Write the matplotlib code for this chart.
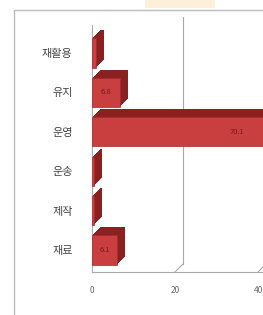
import matplotlib
matplotlib.use("Agg")
import matplotlib.pyplot as plt
import matplotlib.transforms as mtransforms
from matplotlib.patches import Rectangle

plt.rcParams['font.family'] = ['Noto Sans CJK KR', 'DejaVu Sans']

categories = ['재료', '제작', '운송', '운영', '유지', '재활용']
values = [6.1, 0.4, 0.6, 70.1, 6.8, 1.0]
xticks = [0, 20, 40, 60, 80]

fig = plt.figure(figsize=(2.63, 3.15), dpi=100)
# plot area runs past the right edge, as in the cropped reference
ax = fig.add_axes([92 / 263, 43 / 315, 415 / 263, 247 / 315])

pos = list(range(len(categories)))
D = 8  # 3d depth in pixels

def shift(px):
    return mtransforms.ScaledTranslation(px / 100, px / 100, fig.dpi_scale_trans)

# back wall gridlines (shifted by the depth) with a short floor segment
for t in xticks[1:]:
    ax.plot([t, t], [0, 1], color='#a8a8a8', lw=0.8, zorder=0,
            transform=ax.get_xaxis_transform() + shift(D), clip_on=False)
    ax.annotate('', xy=(t, 0), xycoords=ax.get_xaxis_transform(),
                xytext=(D * 0.72, D * 0.72), textcoords='offset points',
                arrowprops=dict(arrowstyle='-', color='#a8a8a8', lw=0.8,
                                shrinkA=0, shrinkB=0))

# extrude the bars back to give the 3d look, then the front face
for k in range(D, 0, -1):
    ax.barh(pos, values, height=0.74, color='#8a2020', lw=0, zorder=2,
            transform=ax.transData + shift(k))
ax.barh(pos, values, height=0.74, color='#c93f3f', edgecolor='#a22b2b',
        lw=0.5, zorder=3)

for p, v in zip(pos, values):
    if v > 3:
        ax.text(v / 2, p, f'{v:.1f}', ha='center', va='center',
                fontsize=5.5, color='#761a1a', zorder=4)

ax.set_xlim(0, 100)
ax.set_ylim(-0.56, 5.71)
ax.set_xticks(xticks)
ax.set_yticks(pos)
ax.set_yticklabels(categories)
ax.tick_params(axis='y', length=0, labelsize=8, labelcolor='#444444', pad=14)
ax.tick_params(axis='x', length=0, labelsize=6, labelcolor='#666666', pad=10)
for side in ['top', 'right']:
    ax.spines[side].set_visible(False)
for side in ['left', 'bottom']:
    ax.spines[side].set_color('#a8a8a8')
    ax.spines[side].set_linewidth(0.8)

# outer chart border and the edge of the cut-off title box
fig.add_artist(Rectangle((14 / 263, -0.1), 1.2, 0.1 + (1 - 10 / 315),
                         transform=fig.transFigure, fill=False,
                         edgecolor='#bcbcbc', lw=1))
fig.add_artist(Rectangle((145 / 263, 1 - 8 / 315), 70 / 263, 8 / 315,
                         transform=fig.transFigure, color='#fdf0d8', lw=0))

fig.savefig('out.png', dpi=100)
